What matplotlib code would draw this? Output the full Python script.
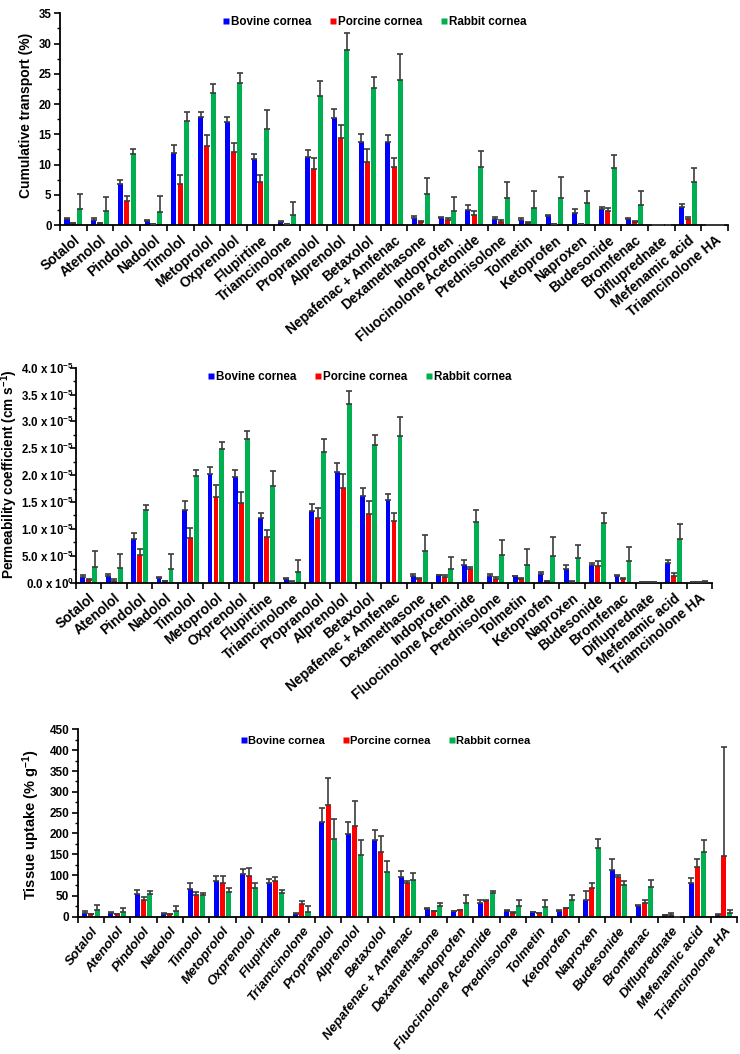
import numpy as np
import matplotlib
matplotlib.use("Agg")
import matplotlib.pyplot as plt
from matplotlib.lines import Line2D
from matplotlib.ticker import MultipleLocator
from matplotlib import font_manager

plt.rcParams['font.family'] = ['Liberation Sans', 'DejaVu Sans']
plt.rcParams['font.weight'] = 'bold'
plt.rcParams['mathtext.fontset'] = 'custom'
plt.rcParams['mathtext.rm'] = 'Liberation Sans:bold'
plt.rcParams['mathtext.bf'] = 'Liberation Sans:bold'
plt.rcParams['mathtext.it'] = 'Liberation Sans:bold:italic'
plt.rcParams['mathtext.default'] = 'bf'

_installed = {f.name for f in font_manager.fontManager.ttflist}
NARROW = ['Liberation Sans Narrow', 'Liberation Sans'] if 'Liberation Sans Narrow' in _installed \
    else ['Liberation Sans', 'DejaVu Sans']

drugs = ["Sotalol", "Atenolol", "Pindolol", "Nadolol", "Timolol", "Metoprolol",
         "Oxprenolol", "Flupirtine", "Triamcinolone", "Propranolol", "Alprenolol",
         "Betaxolol", "Nepafenac + Amfenac", "Dexamethasone", "Indoprofen",
         "Fluocinolone Acetonide", "Prednisolone", "Tolmetin", "Ketoprofen",
         "Naproxen", "Budesonide", "Bromfenac", "Difluprednate", "Mefenamic acid",
         "Triamcinolone HA"]
series = ["Bovine cornea", "Porcine cornea", "Rabbit cornea"]
colors = ["#0000FF", "#FF0000", "#00B050"]

# Cumulative transport (%)
trans_bov = [1.0, 0.9, 6.8, 0.6, 11.9, 17.8, 17.0, 10.9, 0.5, 11.2, 17.7, 13.8, 13.7,
             1.2, 1.15, 2.5, 1.0, 0.9, 1.5, 2.0, 2.6, 1.0, 0.05, 2.95, 0.0]
trans_bov_sd = [0.15, 0.3, 0.7, 0.2, 1.3, 0.9, 0.8, 0.8, 0.1, 1.2, 1.4, 1.2, 1.1,
                0.3, 0.1, 0.75, 0.3, 0.2, 0.1, 0.6, 0.3, 0.1, 0.0, 0.45, 0.0]
trans_por = [0.3, 0.3, 3.9, 0.2, 6.8, 13.1, 12.0, 7.1, 0.1, 9.3, 14.4, 10.5, 9.6,
             0.55, 0.8, 1.7, 0.55, 0.4, 0.2, 0.1, 2.3, 0.45, 0.05, 0.95, 0.0]
trans_por_sd = [0.05, 0.05, 0.9, 0.05, 1.5, 1.8, 1.6, 1.1, 0.05, 1.8, 2.1, 2.1, 1.4,
                0.1, 0.3, 0.6, 0.2, 0.1, 0.05, 0.05, 0.5, 0.25, 0.0, 0.35, 0.0]
trans_rab = [2.6, 2.3, 11.7, 2.2, 17.2, 21.8, 23.4, 15.9, 1.7, 21.3, 28.9, 22.6, 24.0,
             5.1, 2.4, 9.6, 4.4, 2.8, 4.5, 3.6, 9.5, 3.3, 0.05, 7.1, 0.0]
trans_rab_sd = [2.5, 2.3, 0.9, 2.6, 1.4, 1.5, 1.8, 3.1, 2.1, 2.5, 2.9, 1.9, 4.3,
                2.7, 2.2, 2.6, 2.7, 2.8, 3.4, 2.0, 2.0, 2.4, 0.0, 2.3, 0.0]

# Permeability coefficient (x 1e-5 cm/s)
perm_bov = [0.11, 0.12, 0.81, 0.08, 1.36, 2.03, 1.97, 1.21, 0.075, 1.33, 2.06, 1.62, 1.54,
            0.12, 0.14, 0.33, 0.13, 0.12, 0.17, 0.26, 0.33, 0.12, 0.01, 0.37, 0.01]
perm_bov_sd = [0.03, 0.035, 0.11, 0.02, 0.16, 0.13, 0.12, 0.09, 0.01, 0.14, 0.17, 0.14, 0.10,
               0.05, 0.01, 0.10, 0.04, 0.01, 0.03, 0.07, 0.04, 0.02, 0.0, 0.06, 0.0]
perm_por = [0.05, 0.04, 0.51, 0.03, 0.83, 1.59, 1.48, 0.85, 0.02, 1.20, 1.76, 1.28, 1.15,
            0.06, 0.11, 0.25, 0.075, 0.06, 0.03, 0.02, 0.31, 0.06, 0.01, 0.13, 0.01]
perm_por_sd = [0.01, 0.02, 0.11, 0.01, 0.18, 0.23, 0.20, 0.13, 0.005, 0.18, 0.26, 0.24, 0.15,
               0.02, 0.03, 0.04, 0.025, 0.02, 0.005, 0.005, 0.09, 0.03, 0.0, 0.05, 0.0]
perm_rab = [0.29, 0.27, 1.35, 0.25, 1.99, 2.49, 2.67, 1.79, 0.20, 2.43, 3.32, 2.57, 2.72,
            0.59, 0.25, 1.12, 0.51, 0.32, 0.50, 0.46, 1.11, 0.40, 0.01, 0.82, 0.005]
perm_rab_sd = [0.29, 0.26, 0.09, 0.28, 0.10, 0.13, 0.15, 0.28, 0.23, 0.24, 0.24, 0.17, 0.37,
               0.30, 0.23, 0.24, 0.28, 0.31, 0.34, 0.24, 0.19, 0.26, 0.0, 0.27, 0.025]
perm_ticks = [0.0, 0.5, 1.0, 1.5, 2.0, 2.5, 3.0, 3.5, 4.0]
perm_tick_labels = ["0.0 x 10$^{0}$", "5.0 x 10$^{-5}$", "1.0 x 10$^{-5}$",
                    "1.5 x 10$^{-5}$", "2.0 x 10$^{-5}$", "2.5 x 10$^{-5}$",
                    "3.0 x 10$^{-5}$", "3.5 x 10$^{-5}$", "4.0 x 10$^{-5}$"]

# Tissue uptake (% per g)
upt_bov = [10, 10, 55, 7, 67, 86, 103, 82, 7, 228, 198, 184, 96,
           19, 13, 32, 13, 11, 13, 40, 111, 25, 3, 81, 5]
upt_bov_sd = [3, 2, 9, 1, 13, 11, 12, 9, 1, 33, 29, 25, 14,
              3, 1, 7, 2, 1, 2, 21, 27, 4, 1, 12, 1]
upt_por = [6, 5.5, 40, 5.5, 51, 82, 97, 86, 30, 269, 219, 156, 82,
           13, 15, 38, 10, 8, 20, 70, 95, 33, 4, 119, 147]
upt_por_sd = [1, 1, 8, 1, 8, 16, 20, 9, 7, 64, 59, 39, 4,
              1, 1, 3, 1, 1, 2, 10, 5, 7, 5, 20, 261]
upt_rab = [15, 12, 54, 13, 51, 60, 70, 56, 12, 187, 149, 108, 89,
           25, 34, 56, 25, 23, 40, 164, 75, 71, 0, 156, 10]
upt_rab_sd = [14, 10, 8, 12, 7, 10, 11, 8, 14, 47, 36, 25, 16,
              9, 17, 6, 14, 18, 11, 22, 10, 17, 0, 29, 5]

fig = plt.figure(figsize=(7.4, 10.54), dpi=100)

narrow = NARROW[0] == 'Liberation Sans Narrow'
panels = [
    dict(rect=[0.081, 0.7865, 0.903, 0.2009],
         data=[(trans_bov, trans_bov_sd), (trans_por, trans_por_sd), (trans_rab, trans_rab_sd)],
         ylim=35, major=5, minor=2.5, ylabel="Cumulative transport (%)",
         ylab_xy=(-0.040, 0.52), leg_xy=(0.471, 0.959), rot=40, italic=False,
         xfs=10, yfs=8.3, labfs=10, legfs=8.4, family=['Liberation Sans', 'DejaVu Sans'],
         ypad=2),
    dict(rect=[0.1027, 0.4472, 0.8595, 0.2040],
         data=[(perm_bov, perm_bov_sd), (perm_por, perm_por_sd), (perm_rab, perm_rab_sd)],
         ylim=4.0, major=0.5, minor=0.25, ylabel="Permeability coefficient (cm s$^{-1}$)",
         ylab_xy=(-0.088, 0.506), leg_xy=(0.446, 0.957), rot=40, italic=False,
         xfs=10, yfs=8.3, labfs=9.8, legfs=8.4, family=['Liberation Sans', 'DejaVu Sans'],
         ypad=-2.5),
    dict(rect=[0.1049, 0.1303, 0.891, 0.1776],
         data=[(upt_bov, upt_bov_sd), (upt_por, upt_por_sd), (upt_rab, upt_rab_sd)],
         ylim=450, major=50, minor=25, ylabel="Tissue uptake (% g$^{-1}$)",
         ylab_xy=(-0.054, 0.49), leg_xy=(0.467, 0.939), rot=52, italic=True,
         xfs=(11 if narrow else 9.6), yfs=(9.5 if narrow else 8.5),
         labfs=(11 if narrow else 10.5), legfs=(9 if narrow else 8.0), family=NARROW,
         ypad=2),
]

x = np.arange(len(drugs))
offsets = [-0.235, 0.0, 0.235]
bw = 0.19

for i, p in enumerate(panels):
    ax = fig.add_axes(p['rect'])
    for (vals, sd), off, c in zip(p['data'], offsets, colors):
        vals = np.asarray(vals, float)
        sd = np.asarray(sd, float)
        ax.bar(x + off, vals, width=bw, color=c, edgecolor='none', zorder=2)
        ax.errorbar(x + off, vals, yerr=[np.zeros_like(sd), sd], fmt='none',
                    ecolor='#3c3c3c', elinewidth=1.2, capsize=2, capthick=1.2, zorder=3)
    ax.set_xlim(-0.5, len(drugs) - 0.5)
    ax.set_ylim(0, p['ylim'])
    for s in ['top', 'right']:
        ax.spines[s].set_visible(False)
    for s in ['left', 'bottom']:
        ax.spines[s].set_linewidth(1.3)
    ax.set_xticks(x)
    ax.set_xticks(np.arange(-0.5, len(drugs), 1.0), minor=True)
    ax.tick_params(axis='x', which='major', length=0, pad=6)
    ax.tick_params(axis='x', which='minor', length=4, width=1.2, direction='out')
    style = 'italic' if p['italic'] else 'normal'
    ax.set_xticklabels(drugs, rotation=p['rot'], ha='right', va='top',
                       rotation_mode='anchor', fontsize=p['xfs'], fontweight='bold',
                       fontstyle=style, family=p['family'])
    ax.yaxis.set_major_locator(MultipleLocator(p['major']))
    ax.yaxis.set_minor_locator(MultipleLocator(p['minor']))
    ax.tick_params(axis='y', which='major', length=4, width=1.2, labelsize=p['yfs'],
                   pad=p['ypad'])
    ax.tick_params(axis='y', which='minor', length=2.5, width=1.0)
    if i == 1:
        ax.set_yticks(perm_ticks)
        ax.set_yticklabels(perm_tick_labels)
    for t in ax.get_yticklabels():
        t.set_fontweight('bold')
        t.set_family(p['family'])
    ax.set_ylabel(p['ylabel'], fontsize=p['labfs'], fontweight='bold', family=p['family'])
    ax.yaxis.set_label_coords(*p['ylab_xy'])
    handles = [Line2D([], [], linestyle='none', marker='s', markersize=4.5,
                      markerfacecolor=c, markeredgecolor='none') for c in colors]
    ax.legend(handles, series, loc='center', bbox_to_anchor=p['leg_xy'], ncol=3,
              frameon=False, handlelength=0.6, handletextpad=0.1, columnspacing=1.6,
              prop=dict(size=p['legfs'], weight='bold', family=p['family']))

fig.savefig("out.png", dpi=100)
